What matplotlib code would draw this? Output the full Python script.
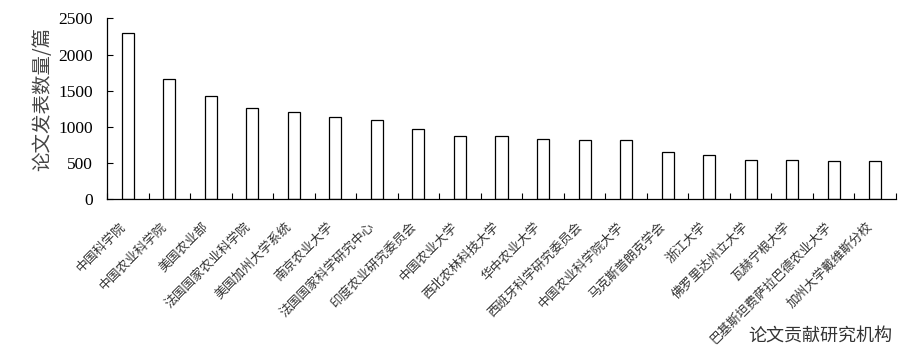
import numpy as np
import matplotlib
matplotlib.use("Agg")
import matplotlib.pyplot as plt

plt.rcParams['font.family'] = ['Liberation Serif', 'Noto Sans CJK SC', 'DejaVu Sans']

institutions = ["中国科学院", "中国农业科学院", "美国农业部", "法国国家农业科学院",
                "美国加州大学系统", "南京农业大学", "法国国家科学研究中心", "印度农业研究委员会",
                "中国农业大学", "西北农林科技大学", "华中农业大学", "西班牙科学研究委员会",
                "中国农业科学院大学", "马克斯普朗克学会", "浙江大学", "佛罗里达州立大学",
                "瓦赫宁根大学", "巴基斯坦费萨拉巴德农业大学", "加州大学戴维斯分校"]
papers = [2293, 1657, 1423, 1257, 1202, 1133, 1091, 967, 870, 870,
          829, 815, 815, 649, 612, 539, 539, 525, 525]
y_ticks = [0, 500, 1000, 1500, 2000, 2500]

fig = plt.figure(figsize=(9.13, 3.54), dpi=100)
ax = fig.add_axes([0.1172, 0.437, 0.8642, 0.511])

x = np.arange(len(institutions))
ax.bar(x, papers, width=0.29, color='white', edgecolor='black', linewidth=0.9)

ax.set_xlim(-0.5, len(institutions) - 0.5)
ax.set_ylim(0, 2500)
ax.set_yticks(y_ticks)
ax.tick_params(axis='y', direction='in', length=4.5, width=0.8, pad=10, labelsize=12.5)

# category boundary ticks on the x axis, labels placed at the centres
ax.set_xticks(np.arange(len(institutions) + 1) - 0.5)
ax.set_xticklabels([])
ax.tick_params(axis='x', which='major', direction='in', length=4, width=0.8)
ax.set_xticks(x, minor=True)
ax.set_xticklabels(institutions, minor=True, rotation=45, ha='right', va='top',
                   fontsize=9.2, color='#333333', family=['Noto Sans CJK SC'])
ax.tick_params(axis='x', which='minor', length=0, pad=15)

for s in ['top', 'right']:
    ax.spines[s].set_visible(False)
for s in ['left', 'bottom']:
    ax.spines[s].set_linewidth(0.9)

fig.text(0.0466, 0.72, "论文发表数量/篇", rotation=90, ha='center', va='center',
         fontsize=14, color='#444444', family=['Noto Sans CJK SC'])
fig.text(0.977, 0.048, "论文贡献研究机构", ha='right', va='center',
         fontsize=13, color='#333333', family=['Noto Sans CJK SC'])

fig.savefig("out.png", dpi=100)
